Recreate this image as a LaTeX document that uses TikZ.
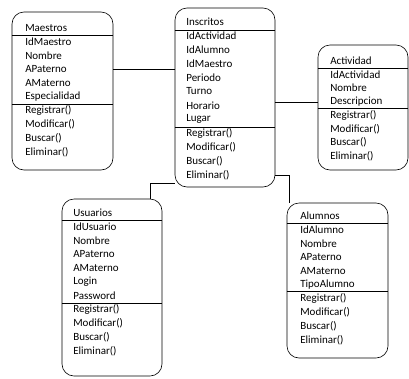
\documentclass[tikz,border=0pt]{standalone}
\usepackage{fontspec}
\setmainfont{Carlito}
\usepackage{tikz}

\begin{document}
\begin{tikzpicture}[x=1pt,y=-1pt,line width=0.6pt]
\tikzstyle{every node}+=[inner sep=0pt]
\tikzstyle{clase}=[draw,rounded corners=12pt]
\tikzstyle{campo}=[anchor=west,font=\fontsize{11}{13}\selectfont]
\useasboundingbox (0,0) rectangle (409,378);
% cajas
\node [clase,minimum width=101pt,minimum height=158pt] (maestros) at (62.5,91) {};
\node [clase,minimum width=100pt,minimum height=179pt] (inscritos) at (225,97.5) {};
\node [clase,minimum width=90pt,minimum height=125pt] (actividad) at (363,107.5) {};
\node [clase,minimum width=100pt,minimum height=177pt] (usuarios) at (112,287.5) {};
\node [clase,minimum width=101pt,minimum height=155pt] (alumnos) at (337.5,280.5) {};
% textos
\foreach \t [count=\i] in {Maestros,IdMaestro,Nombre,APaterno,AMaterno,Especialidad,Registrar(),Modificar(),Buscar(),Eliminar()}
  \node [campo] (mae-\i) at (25,28+13.8*\i-13.8) {\t};
\foreach \t [count=\i] in {Inscritos,IdActividad,IdAlumno,IdMaestro,Periodo,Turno,Horario,Lugar,Registrar(),Modificar(),Buscar(),Eliminar()}
  \node [campo] (ins-\i) at (186,22+13.9*\i-13.9) {\t};
\foreach \t [count=\i] in {Actividad,IdActividad,Nombre,Descripcion,Registrar(),Modificar(),Buscar(),Eliminar()}
  \node [campo] (act-\i) at (330,61+13.6*\i-13.6) {\t};
\foreach \t [count=\i] in {Usuarios,IdUsuario,Nombre,APaterno,AMaterno,Login,Password,Registrar(),Modificar(),Buscar(),Eliminar()}
  \node [campo] (usu-\i) at (73,213+13.8*\i-13.8) {\t};
\foreach \t [count=\i] in {Alumnos,IdAlumno,Nombre,APaterno,AMaterno,TipoAlumno,Registrar(),Modificar(),Buscar(),Eliminar()}
  \node [campo] (alu-\i) at (300,216+13.8*\i-13.8) {\t};
% separadores
\draw (maestros.west |- 0,35) -- (maestros.east |- 0,35);
\draw (maestros.west |- 0,104) -- (maestros.east |- 0,104);
\draw (inscritos.west |- 0,30) -- (inscritos.east |- 0,30);
\draw (inscritos.west |- 0,127) -- (inscritos.east |- 0,127);
\draw (actividad.west |- 0,68) -- (actividad.east |- 0,68);
\draw (actividad.west |- 0,108) -- (actividad.east |- 0,108);
\draw (usuarios.west |- 0,220) -- (usuarios.east |- 0,220);
\draw (usuarios.west |- 0,303) -- (usuarios.east |- 0,303);
\draw (alumnos.west |- 0,223) -- (alumnos.east |- 0,223);
\draw (alumnos.west |- 0,291) -- (alumnos.east |- 0,291);
% relaciones
\draw (maestros.east |- mae-4) -- (inscritos.west |- mae-4);
\draw (inscritos.east |- act-4) -- (actividad.west |- act-4);
\draw (inscritos.east |- ins-12) -| ([xshift=3pt]alumnos.north west);
\draw ([yshift=4pt]inscritos.south west) -| ([xshift=-12pt]usuarios.north east);
\end{tikzpicture}
\end{document}
